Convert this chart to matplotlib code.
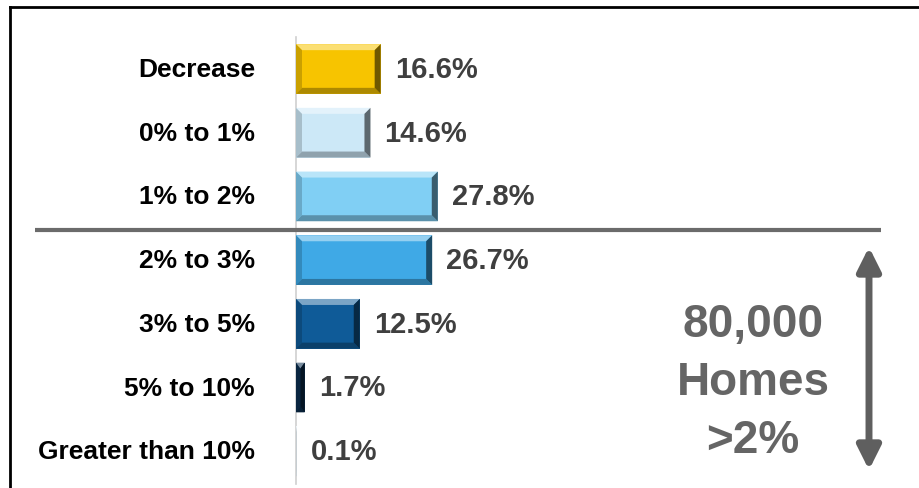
import matplotlib
matplotlib.use("Agg")
import matplotlib.pyplot as plt
from matplotlib.patches import Polygon
from matplotlib.lines import Line2D
import matplotlib.colors as mcolors

plt.rcParams['font.family'] = ['Liberation Sans', 'DejaVu Sans']

categories = ["Decrease", "0% to 1%", "1% to 2%", "2% to 3%", "3% to 5%", "5% to 10%", "Greater than 10%"]
values = [16.6, 14.6, 27.8, 26.7, 12.5, 1.7, 0.1]
value_labels = ["16.6%", "14.6%", "27.8%", "26.7%", "12.5%", "1.7%", "0.1%"]
colors = ["#f7c400", "#cce8f7", "#80cff4", "#3fa9e6", "#0f5b98", "#0c2d4e", "#eef6fb"]
callout_lines = ["80,000", "Homes", ">2%"]

W, H = 920, 489
fig = plt.figure(figsize=(W / 100, H / 100), dpi=100)
ax = fig.add_axes([0, 0, 1, 1])
ax.axis("off")

px_per_pct = 5.1
x0_px = 296
row0_px = 70
row_px = 63.7
ax.set_xlim(-x0_px / px_per_pct, (W - x0_px) / px_per_pct)
ax.set_ylim((H - row0_px) / row_px, -row0_px / row_px)

ypos = list(range(len(categories)))
bh = 0.78
ax.barh(ypos, values, height=bh, color=colors, edgecolor="none", zorder=2)

# bevel effect
bx = 6 / px_per_pct
by = 6 / row_px
for y, v, c in zip(ypos, values, colors):
    rgb = mcolors.to_rgb(c)
    light = tuple(min(1, ch + (1 - ch) * 0.45) for ch in rgb)
    dark = tuple(ch * 0.45 for ch in rgb)
    mid = tuple(ch * 0.7 for ch in rgb)
    t, b = y - bh / 2, y + bh / 2
    ex = min(bx, v / 2)
    ax.add_patch(Polygon([(0, t), (v, t), (v - ex, t + by), (ex, t + by)], closed=True,
                         facecolor=light, edgecolor="none", zorder=3))
    ax.add_patch(Polygon([(0, b), (v, b), (v - ex, b - by), (ex, b - by)], closed=True,
                         facecolor=mid, edgecolor="none", zorder=3))
    ax.add_patch(Polygon([(v, t), (v, b), (v - ex, b - by), (v - ex, t + by)], closed=True,
                         facecolor=dark, edgecolor="none", zorder=3))
    ax.add_patch(Polygon([(0, t), (0, b), (ex, b - by), (ex, t + by)], closed=True,
                         facecolor=mid, edgecolor="none", zorder=3, alpha=0.6))

# axis line
ax.plot([0, 0], [(38 - row0_px) / row_px, (485 - row0_px) / row_px], color="#cfcfcf", lw=1.2, zorder=1)

for y, v, lab in zip(ypos, values, value_labels):
    ax.text(v + 14 / px_per_pct, y, lab, ha="left", va="center", fontsize=21,
            fontweight="bold", color="#3f3f3f", zorder=4)

for y, cat in zip(ypos, categories):
    ax.text((255 - x0_px) / px_per_pct, y, cat, ha="right", va="center", fontsize=19,
            fontweight="bold", color="black")

# separator
sep_y = 2.5 + 1.5 / row_px
ax.plot([(35 - x0_px) / px_per_pct, (881 - x0_px) / px_per_pct], [sep_y, sep_y],
        color="#6b6b6b", lw=3, solid_capstyle="butt", zorder=1)

# arrow
ax_x = (869 - x0_px) / px_per_pct
ax.annotate("", xy=(ax_x, (471 - row0_px) / row_px), xytext=(ax_x, (248 - row0_px) / row_px),
            arrowprops=dict(arrowstyle="<|-|>,head_length=1.4,head_width=0.7", color="#5f5f5f",
                            lw=5, shrinkA=0, shrinkB=0))

# callout text
cx = (753 - x0_px) / px_per_pct
for i, line in enumerate(callout_lines):
    ax.text(cx, (325 + 58 * i - row0_px) / row_px, line, ha="center", va="center",
            fontsize=33, fontweight="bold", color="#656565")

# frame
fig.add_artist(Line2D([10 / W, 10 / W], [0, 1 - 8 / H], color="black", lw=2))
fig.add_artist(Line2D([10 / W, 1], [1 - 8 / H, 1 - 8 / H], color="black", lw=2))

fig.savefig("out.png", dpi=100)
